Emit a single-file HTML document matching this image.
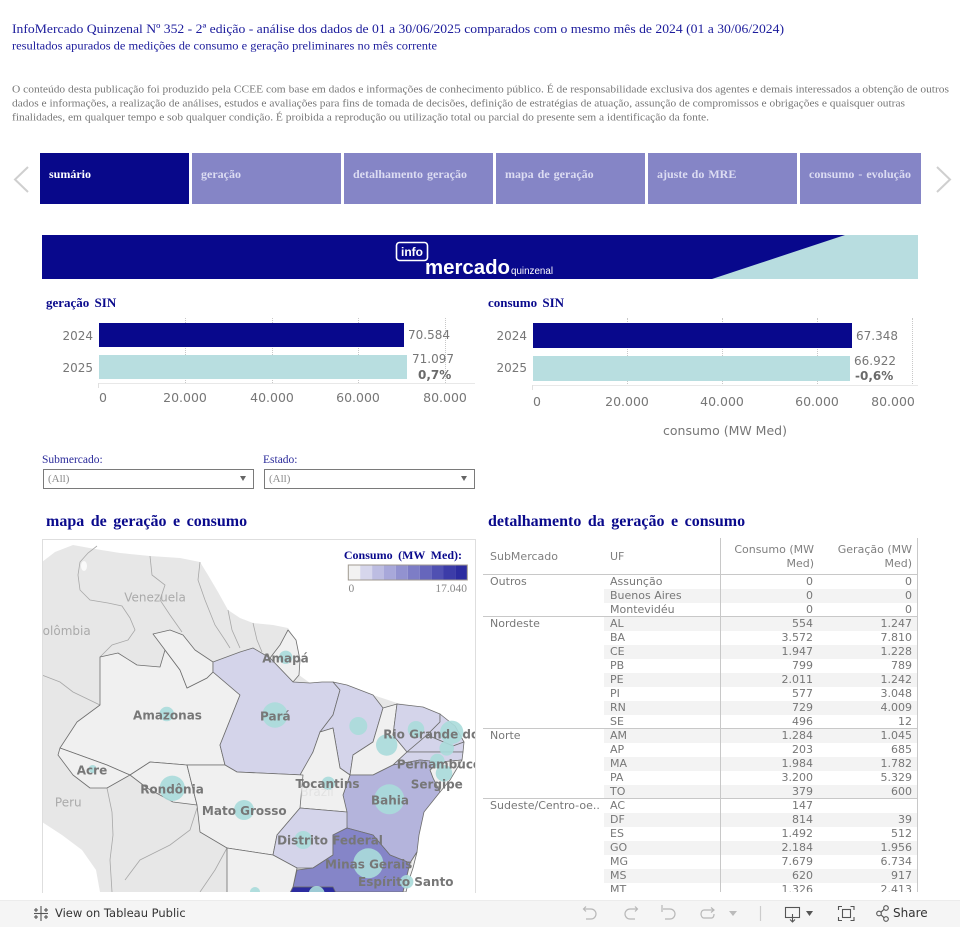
<!DOCTYPE html>
<html><head><meta charset="utf-8">
<style>
*{margin:0;padding:0;box-sizing:border-box}
body{width:960px;height:927px;overflow:hidden;background:#fff;position:relative}
.a{position:absolute;white-space:nowrap}
.dv{font-family:"DejaVu Sans","Liberation Sans",sans-serif}
.sf{font-family:"Liberation Serif",serif}
.tab{position:absolute;top:153px;height:51px;background:#8585c6;color:#dcdcf2;font:bold 12px "Liberation Serif",serif;word-spacing:1px;line-height:43px;padding-left:9px;white-space:nowrap;overflow:hidden}
.yl{position:absolute;font:12px "DejaVu Sans",sans-serif;color:#777;line-height:16px;text-align:right;width:60px}
.tk{position:absolute;font:12.5px "DejaVu Sans",sans-serif;color:#777;line-height:16px;width:80px;text-align:center}
.vl{position:absolute;font:12px "DejaVu Sans",sans-serif;color:#777;line-height:16px;white-space:nowrap}
.gl{position:absolute;width:0;border-left:1px dotted #c8c8c8}
.r{position:absolute;left:0;width:960px;height:14px;line-height:14px;font:11px "DejaVu Sans",sans-serif;color:#777}
.r .b{position:absolute;left:604px;width:313px;height:14px;background:#f3f3f3}
.r .s{position:absolute;left:490px}
.r .u{position:absolute;left:610px}
.r .c{position:absolute;right:147px}
.r .g{position:absolute;right:48px}
</style></head><body>

<!-- header texts -->
<svg class="a" style="left:0;top:0" width="960" height="130">
<text x="12" y="33" font-family="Liberation Serif" font-size="13" fill="#1c1c9c" textLength="772" lengthAdjust="spacingAndGlyphs">InfoMercado Quinzenal Nº 352 - 2ª edição - análise dos dados de 01 a 30/06/2025 comparados com o mesmo mês de 2024 (01 a 30/06/2024)</text>
<text x="12" y="49.5" font-family="Liberation Serif" font-size="12" fill="#1c1c9c" textLength="425" lengthAdjust="spacingAndGlyphs">resultados apurados de medições de consumo e geração preliminares no mês corrente</text>
<text x="12" y="92.6" font-family="Liberation Serif" font-size="10.5" fill="#777" textLength="937" lengthAdjust="spacingAndGlyphs">O conteúdo desta publicação foi produzido pela CCEE com base em dados e informações de conhecimento público. É de responsabilidade exclusiva dos agentes e demais interessados a obtenção  de outros</text>
<text x="12" y="106.6" font-family="Liberation Serif" font-size="10.5" fill="#777" textLength="893" lengthAdjust="spacingAndGlyphs">dados e informações, a realização de análises, estudos e avaliações para fins de tomada de decisões, definição de estratégias de atuação, assunção de compromissos e obrigações e quaisquer outras</text>
<text x="12" y="120.6" font-family="Liberation Serif" font-size="10.5" fill="#777" textLength="697" lengthAdjust="spacingAndGlyphs">finalidades, em qualquer tempo e sob qualquer condição. É proibida a reprodução ou utilização total ou parcial do presente sem a identificação da fonte.</text>
</svg>

<!-- nav -->
<svg class="a" style="left:0;top:150px" width="960" height="60">
<polyline points="28,17 15,29.5 28,42" fill="none" stroke="#cfcfcf" stroke-width="2"/>
<polyline points="937,17 950,29.5 937,42" fill="none" stroke="#cfcfcf" stroke-width="2"/>
</svg>
<div class="tab" style="left:40px;width:149px;background:#08088a;color:#fff">sumário</div>
<div class="tab" style="left:192px;width:149px">geração</div>
<div class="tab" style="left:344px;width:149px">detalhamento geração</div>
<div class="tab" style="left:496px;width:149px">mapa de geração</div>
<div class="tab" style="left:648px;width:149px">ajuste do MRE</div>
<div class="tab" style="left:800px;width:121px">consumo - evolução</div>

<!-- banner -->
<svg class="a" style="left:42px;top:235px" width="876" height="44" viewBox="42 235 876 44">
<rect x="42" y="235" width="876" height="44" fill="#08088c"/>
<polygon points="845,235 918,235 918,279 712,279" fill="#b8dde0"/>
<rect x="396.5" y="242.5" width="31" height="18" rx="3" fill="none" stroke="#fff" stroke-width="1.6"/>
<text x="412" y="256" text-anchor="middle" font-family="Liberation Sans" font-weight="bold" font-size="12" fill="#fff">info</text>
<text x="425" y="274" font-family="Liberation Sans" font-weight="bold" font-size="20" fill="#fff" textLength="85" lengthAdjust="spacingAndGlyphs">mercado</text>
<text x="511" y="274" font-family="Liberation Sans" font-size="10" fill="#fff" textLength="42" lengthAdjust="spacingAndGlyphs">quinzenal</text>
</svg>

<!-- chart titles -->
<div class="a sf" style="left:46px;top:295px;font-weight:bold;font-size:13px;color:#0a0a8c;line-height:16px;word-spacing:2px">geração SIN</div>
<div class="a sf" style="left:488px;top:295px;font-weight:bold;font-size:13px;color:#0a0a8c;line-height:16px;word-spacing:2px">consumo SIN</div>

<!-- chart 1 -->
<div class="gl" style="left:185px;top:318px;height:65px"></div>
<div class="gl" style="left:272px;top:318px;height:65px"></div>
<div class="gl" style="left:358px;top:318px;height:65px"></div>
<div class="gl" style="left:445px;top:318px;height:65px"></div>
<div class="a" style="left:98px;top:383px;width:377px;height:1px;background:#e8e8e8"></div>
<div class="a" style="left:98px;top:383px;width:1px;height:5px;background:#e0e0e0"></div>
<div class="a" style="left:99px;top:323px;width:305px;height:24px;background:#08088c"></div>
<div class="a" style="left:99px;top:355px;width:308px;height:24px;background:#b8dee0"></div>
<div class="yl" style="left:33px;top:328px">2024</div>
<div class="yl" style="left:33px;top:360px">2025</div>
<div class="vl" style="left:408px;top:327px">70.584</div>
<div class="vl" style="left:412px;top:351px">71.097</div>
<div class="vl" style="left:418px;top:367px;font-weight:bold;color:#6a6a6a">0,7%</div>
<div class="tk" style="left:63px;top:390px">0</div>
<div class="tk" style="left:145px;top:390px">20.000</div>
<div class="tk" style="left:232px;top:390px">40.000</div>
<div class="tk" style="left:318px;top:390px">60.000</div>
<div class="tk" style="left:405px;top:390px">80.000</div>

<!-- chart 2 -->
<div class="gl" style="left:627px;top:318px;height:68px"></div>
<div class="gl" style="left:722px;top:318px;height:68px"></div>
<div class="gl" style="left:817px;top:318px;height:68px"></div>
<div class="gl" style="left:912px;top:318px;height:68px"></div>
<div class="a" style="left:532px;top:385px;width:386px;height:1px;background:#e8e8e8"></div>
<div class="a" style="left:532px;top:385px;width:1px;height:5px;background:#e0e0e0"></div>
<div class="a" style="left:533px;top:323px;width:319px;height:25px;background:#08088c"></div>
<div class="a" style="left:533px;top:356px;width:317px;height:25px;background:#b8dee0"></div>
<div class="yl" style="left:467px;top:328px">2024</div>
<div class="yl" style="left:467px;top:360px">2025</div>
<div class="vl" style="left:856px;top:328px">67.348</div>
<div class="vl" style="left:854px;top:353px">66.922</div>
<div class="vl" style="left:855px;top:368px;font-weight:bold;color:#6a6a6a">-0,6%</div>
<div class="tk" style="left:497px;top:394px">0</div>
<div class="tk" style="left:587px;top:394px">20.000</div>
<div class="tk" style="left:682px;top:394px">40.000</div>
<div class="tk" style="left:777px;top:394px">60.000</div>
<div class="tk" style="left:853px;top:394px">80.000</div>
<div class="a dv" style="left:625px;top:423px;width:200px;text-align:center;font-size:12.5px;color:#777;line-height:16px">consumo (MW Med)</div>

<!-- filters -->
<div class="a sf" style="left:42px;top:452px;font-size:11.5px;color:#2a2a9a;line-height:16px">Submercado:</div>
<div class="a" style="left:43px;top:469px;width:211px;height:20px;border:1px solid #7a7a7a"></div>
<div class="a sf" style="left:48px;top:472px;font-size:11px;color:#8a8a8a;line-height:14px">(All)</div>
<div class="a" style="left:240px;top:476px;width:0;height:0;border-left:3.5px solid transparent;border-right:3.5px solid transparent;border-top:5px solid #666"></div>
<div class="a sf" style="left:263px;top:452px;font-size:11.5px;color:#2a2a9a;line-height:16px">Estado:</div>
<div class="a" style="left:264px;top:469px;width:211px;height:20px;border:1px solid #7a7a7a"></div>
<div class="a sf" style="left:269px;top:472px;font-size:11px;color:#8a8a8a;line-height:14px">(All)</div>
<div class="a" style="left:461px;top:476px;width:0;height:0;border-left:3.5px solid transparent;border-right:3.5px solid transparent;border-top:5px solid #666"></div>

<!-- section titles -->
<div class="a sf" style="left:46px;top:512px;font-weight:bold;font-size:16px;color:#0a0a8c;line-height:20px;word-spacing:2.5px">mapa de geração e consumo</div>
<div class="a sf" style="left:488px;top:512px;font-weight:bold;font-size:16px;color:#0a0a8c;line-height:20px;word-spacing:2.5px">detalhamento da geração e consumo</div>

<!-- map -->
<div class="a" style="left:42px;top:539px;width:434px;height:354px;border:1px solid #dedede;border-bottom:none"></div>
<svg class="a" style="left:43px;top:540px" width="432" height="352" viewBox="43 540 432 352">
<rect x="43" y="540" width="432" height="352" fill="#fff"/>
<polygon fill="#e7e7e7" points="42,562 55,552 73,545 95,549 120,553 150,556 180,558 200,562 208,575 218,592 228,610 240,618 253,623 273,625 288,628 296,640 300,660 299,675 310,683 322,682 347,685 373,695 397,703 423,707 440,714 455,726 464,742 462,760 450,780 440,792 424,812 419,835 417,852 413,868 409,880 406,892 100,892 96,870 82,850 62,835 42,822"/>
<ellipse cx="84" cy="566" rx="3" ry="5" fill="#fafafa"/>
<g fill="none" stroke="#a8a8a8" stroke-width="0.8">
<polyline points="97,546 88,553 80,562 78,575 80,590 90,600 108,603 122,606 130,618 135,630 128,640 112,645 100,657"/>
<polyline points="42,675 60,682 73,692 100,705"/>
<polyline points="107,788 112,812 113,835 110,860 112,892"/>
<polyline points="150,556 152,575 165,585 160,600 170,615 182,632"/>
<polyline points="200,562 198,580 205,600 215,625 225,640 230,648"/>
<polyline points="228,610 232,630 240,648"/>
<polyline points="253,623 257,640 262,652"/>
<polyline points="197,808 190,830 170,845 140,860 125,880"/>
<polyline points="227,848 215,870 200,892"/>
</g>
<g stroke="#6e6e6e" stroke-width="0.8" stroke-linejoin="round">
<polygon fill="#f0f0f0" points="100,657 118,653 137,665 160,667 165,650 180,670 187,688 207,678 213,672 240,695 220,745 225,765 187,765 150,762 130,775 107,765 60,748 77,722 100,705"/>
<polygon fill="#f0f0f0" points="153,634 170,630 183,635 195,650 213,662 213,672 207,678 187,688 180,670 165,650"/>
<polygon fill="#f0f0f0" points="270,658 280,645 288,630 296,640 300,660 299,675 293,682"/>
<polygon fill="#d4d4ea" points="213,662 240,652 253,648 270,658 293,682 310,683 322,682 333,682 340,690 333,715 320,732 313,752 303,775 237,772 225,765 220,745 240,695 213,672"/>
<polygon fill="#d4d4ea" points="333,682 347,685 373,695 383,708 373,742 353,755 350,775 340,768 333,728 320,732 333,715 340,690"/>
<polygon fill="#f0f0f0" points="383,708 397,704 393,735 407,752 393,765 373,775 350,775 353,755 373,742"/>
<polygon fill="#d4d4ea" points="397,704 423,707 440,714 440,722 427,735 407,752 393,735"/>
<polygon fill="#d4d4ea" points="440,714 455,726 464,742 453,746 427,735 440,722"/>
<polygon fill="#d4d4ea" points="427,735 453,746 464,742 463,752 407,752"/>
<polygon fill="#d4d4ea" points="407,752 463,752 462,760 440,762 420,760 393,765"/>
<polygon fill="#f0f0f0" points="440,762 462,760 450,780 440,792 433,778 430,770"/>
<polygon fill="#b4b4dc" points="393,765 420,760 440,762 430,770 433,778 440,792 424,812 419,835 417,852 410,863 390,855 373,835 347,828 343,795 350,775 373,775"/>
<polygon fill="#f0f0f0" points="320,732 333,728 340,768 350,775 343,795 347,812 300,808 300,775 313,752"/>
<polygon fill="#f0f0f0" points="60,748 107,765 130,775 107,788 90,788 73,775 58,755"/>
<polygon fill="#f0f0f0" points="150,762 187,765 197,805 173,802 147,788 130,775"/>
<polygon fill="#f0f0f0" points="187,765 225,765 237,772 303,775 300,808 277,835 273,855 227,848 200,832 197,805"/>
<polygon fill="#d4d4ea" points="300,808 347,812 347,828 333,835 333,855 313,868 297,868 273,855 277,835"/>
<polygon fill="#8585c8" points="347,828 373,835 390,855 410,863 406,880 403,892 335,892 333,887 293,887 297,870 313,868 333,855 333,835"/>
<polygon fill="#f0f0f0" points="410,863 417,852 413,868 409,880 406,892 403,892 406,880"/>
<polygon fill="#f0f0f0" points="227,848 273,855 297,868 293,887 290,893 227,893"/>
<polygon fill="#2c2ca0" points="293,887 333,887 336,893 290,893"/>
</g>
<g fill="#aadcdb" opacity="0.9">
<circle cx="285.7" cy="657.3" r="6.7"/><circle cx="166.7" cy="714" r="7.3"/><circle cx="275" cy="715" r="12.7"/>
<circle cx="358.3" cy="726" r="9"/><circle cx="416" cy="729.3" r="8.3"/><circle cx="451.7" cy="732.3" r="11.7"/>
<circle cx="386.7" cy="745" r="10.7"/><circle cx="446.7" cy="748.3" r="7.3"/><circle cx="437.3" cy="761" r="7.3"/>
<circle cx="444" cy="773.3" r="8.3"/><circle cx="92.7" cy="769" r="4"/><circle cx="172.3" cy="788.3" r="12.7"/>
<circle cx="328.3" cy="783.3" r="6.7"/><circle cx="244" cy="810" r="10"/><circle cx="389.3" cy="799.3" r="15"/>
<circle cx="303.3" cy="840" r="9"/><circle cx="368.3" cy="863.3" r="15"/><circle cx="406.7" cy="881.7" r="6.7"/>
<circle cx="316.7" cy="894" r="8"/><circle cx="255" cy="892" r="5"/>
</g>
<g font-family="DejaVu Sans" font-size="12" fill="#aaa">
<text x="155" y="601.6" text-anchor="middle">Venezuela</text>
<text x="90.7" y="635" text-anchor="end">Colômbia</text>
<text x="68.3" y="806.6" text-anchor="middle">Peru</text>
<text x="317" y="796" text-anchor="middle" fill="#e2e2e2">Brazil</text>
</g>
<g font-family="DejaVu Sans" font-weight="bold" font-size="12" fill="#777" text-anchor="middle">
<text x="285.5" y="662.6">Amapá</text>
<text x="167.5" y="719.3">Amazonas</text>
<text x="275.3" y="720.3">Pará</text>
<text x="383.3" y="738.3" text-anchor="start">Rio Grande do Norte</text>
<text x="396.7" y="768.6" text-anchor="start">Pernambuco</text>
<text x="410.7" y="788.3" text-anchor="start">Sergipe</text>
<text x="92" y="774.3">Acre</text>
<text x="172" y="793.3">Rondônia</text>
<text x="327.5" y="788">Tocantins</text>
<text x="244.3" y="815">Mato Grosso</text>
<text x="390" y="804.3">Bahia</text>
<text x="330" y="844.3">Distrito Federal</text>
<text x="368.7" y="868.3">Minas Gerais</text>
<text x="405.8" y="886">Espírito Santo</text>
</g>
<!-- legend -->
<text x="462" y="559" text-anchor="end" font-family="Liberation Serif" font-weight="bold" font-size="12" fill="#0a0a8c" word-spacing="2.5">Consumo (MW Med):</text>
<g stroke="none">
<rect x="348.3" y="565" width="11.9" height="15" fill="#f2f2f2"/>
<rect x="360.2" y="565" width="11.9" height="15" fill="#d6d6ec"/>
<rect x="372.1" y="565" width="11.9" height="15" fill="#bdbde2"/>
<rect x="384" y="565" width="11.9" height="15" fill="#a8a8da"/>
<rect x="395.9" y="565" width="11.9" height="15" fill="#9292d0"/>
<rect x="407.8" y="565" width="11.9" height="15" fill="#7d7dc6"/>
<rect x="419.7" y="565" width="11.9" height="15" fill="#6666bc"/>
<rect x="431.6" y="565" width="11.9" height="15" fill="#5050b2"/>
<rect x="443.5" y="565" width="11.9" height="15" fill="#3c3ca8"/>
<rect x="455.4" y="565" width="11.9" height="15" fill="#2c2ca0"/>
</g>
<rect x="348.3" y="565" width="119" height="15" fill="none" stroke="#a09a90" stroke-width="1"/>
<text x="348.5" y="592" font-family="Liberation Serif" font-size="11.5" fill="#888">0</text>
<text x="467" y="592" text-anchor="end" font-family="Liberation Serif" font-size="11.5" fill="#888">17.040</text>
</svg>

<!-- table -->
<div class="a" style="left:0;top:538px;width:960px;height:354px;overflow:hidden">
<div class="a dv" style="left:490px;top:12px;font-size:11px;color:#808080;line-height:14px">SubMercado</div>
<div class="a dv" style="left:610px;top:12px;font-size:11px;color:#808080;line-height:14px">UF</div>
<div class="a dv" style="right:146px;top:5px;font-size:11px;color:#808080;line-height:14.3px;text-align:right">Consumo (MW<br>Med)</div>
<div class="a dv" style="right:48px;top:5px;font-size:11px;color:#808080;line-height:14.3px;text-align:right">Geração (MW<br>Med)</div>
<div style="position:absolute;left:0;top:36.5px;width:960px;height:340px">
<div class="r" style="top:0"><span class="s">Outros</span><span class="u">Assunção</span><span class="c">0</span><span class="g">0</span></div>
<div class="r" style="top:14px"><div class="b"></div><span class="u">Buenos Aires</span><span class="c">0</span><span class="g">0</span></div>
<div class="r" style="top:28px"><span class="u">Montevidéu</span><span class="c">0</span><span class="g">0</span></div>
<div class="r" style="top:42px"><div class="b"></div><span class="s">Nordeste</span><span class="u">AL</span><span class="c">554</span><span class="g">1.247</span></div>
<div class="r" style="top:56px"><span class="u">BA</span><span class="c">3.572</span><span class="g">7.810</span></div>
<div class="r" style="top:70px"><div class="b"></div><span class="u">CE</span><span class="c">1.947</span><span class="g">1.228</span></div>
<div class="r" style="top:84px"><span class="u">PB</span><span class="c">799</span><span class="g">789</span></div>
<div class="r" style="top:98px"><div class="b"></div><span class="u">PE</span><span class="c">2.011</span><span class="g">1.242</span></div>
<div class="r" style="top:112px"><span class="u">PI</span><span class="c">577</span><span class="g">3.048</span></div>
<div class="r" style="top:126px"><div class="b"></div><span class="u">RN</span><span class="c">729</span><span class="g">4.009</span></div>
<div class="r" style="top:140px"><span class="u">SE</span><span class="c">496</span><span class="g">12</span></div>
<div class="r" style="top:154px"><div class="b"></div><span class="s">Norte</span><span class="u">AM</span><span class="c">1.284</span><span class="g">1.045</span></div>
<div class="r" style="top:168px"><span class="u">AP</span><span class="c">203</span><span class="g">685</span></div>
<div class="r" style="top:182px"><div class="b"></div><span class="u">MA</span><span class="c">1.984</span><span class="g">1.782</span></div>
<div class="r" style="top:196px"><span class="u">PA</span><span class="c">3.200</span><span class="g">5.329</span></div>
<div class="r" style="top:210px"><div class="b"></div><span class="u">TO</span><span class="c">379</span><span class="g">600</span></div>
<div class="r" style="top:224px"><span class="s">Sudeste/Centro-oe..</span><span class="u">AC</span><span class="c">147</span></div>
<div class="r" style="top:238px"><div class="b"></div><span class="u">DF</span><span class="c">814</span><span class="g">39</span></div>
<div class="r" style="top:252px"><span class="u">ES</span><span class="c">1.492</span><span class="g">512</span></div>
<div class="r" style="top:266px"><div class="b"></div><span class="u">GO</span><span class="c">2.184</span><span class="g">1.956</span></div>
<div class="r" style="top:280px"><span class="u">MG</span><span class="c">7.679</span><span class="g">6.734</span></div>
<div class="r" style="top:294px"><div class="b"></div><span class="u">MS</span><span class="c">620</span><span class="g">917</span></div>
<div class="r" style="top:308px"><span class="u">MT</span><span class="c">1.326</span><span class="g">2.413</span></div>
</div>
<div class="a" style="left:483px;top:36px;width:435px;height:1px;background:#c8c8c8"></div>
<div class="a" style="left:483px;top:78px;width:435px;height:1px;background:#c8c8c8"></div>
<div class="a" style="left:483px;top:190px;width:435px;height:1px;background:#c8c8c8"></div>
<div class="a" style="left:483px;top:260px;width:435px;height:1px;background:#c8c8c8"></div>
<div class="a" style="left:720px;top:0;width:1px;height:354px;background:#c8c8c8"></div>
<div class="a" style="left:917px;top:0;width:1px;height:354px;background:#c8c8c8"></div>
</div>

<!-- toolbar -->
<div class="a" style="left:0;top:900px;width:960px;height:27px;background:#f5f5f5;border-top:1px solid #ececec"></div>
<svg class="a" style="left:0;top:900px" width="960" height="27">
<g stroke="#555" stroke-width="1.1" fill="none">
<line x1="41" y1="6" x2="41" y2="21"/><line x1="34" y1="13.5" x2="48" y2="13.5"/>
<line x1="36" y1="8" x2="36" y2="12"/><line x1="34" y1="10" x2="38" y2="10"/>
<line x1="46" y1="8" x2="46" y2="12"/><line x1="44" y1="10" x2="48" y2="10"/>
<line x1="36" y1="15" x2="36" y2="19"/><line x1="34" y1="17" x2="38" y2="17"/>
<line x1="46" y1="15" x2="46" y2="19"/><line x1="44" y1="17" x2="48" y2="17"/>
</g>
<g stroke="#b8b8b8" stroke-width="1.2" fill="none">
<path d="M584,9 h7 a5,5 0 0 1 0,10 h-5"/><path d="M586,6.5 l-2.5,2.5 2.5,2.5"/>
<path d="M637,9 h-7 a5,5 0 0 0 0,10 h5"/><path d="M635,6.5 l2.5,2.5 -2.5,2.5"/>
<path d="M663,9 h7 a5,5 0 0 1 0,10 h-5"/><line x1="662" y1="5" x2="662" y2="12"/>
<path d="M714,10 h-10 a3,4 0 0 0 0,8 h8 a3,4 0 0 0 2,-4"/><path d="M711,7.5 l3,2.5 -3,2.5"/>
<line x1="760.5" y1="6" x2="760.5" y2="21" stroke="#ccc"/>
</g>
<polygon points="729,11 737,11 733,16" fill="#bbb"/>
<g stroke="#555" stroke-width="1.1" fill="none">
<rect x="785.5" y="7.5" width="14" height="10"/><line x1="792.5" y1="14" x2="792.5" y2="22"/><path d="M790,19.5 l2.5,2.5 2.5,-2.5"/>
<path d="M838.5,10 v-3.5 h3.5 M850.5,6.5 h3.5 v3.5 M854,17 v3.5 h-3.5 M842,20.5 h-3.5 v-3.5"/>
<rect x="842.5" y="9.5" width="8" height="8"/>
<circle cx="886" cy="8" r="2.3"/><circle cx="879" cy="13.5" r="2.3"/><circle cx="886" cy="19" r="2.3"/>
<line x1="881" y1="12.2" x2="884" y2="9.3"/><line x1="881" y1="14.8" x2="884" y2="17.7"/>
</g>
<polygon points="806,11 813,11 809.5,16" fill="#555"/>
</svg>
<div class="a dv" style="left:55px;top:906px;font-size:11.5px;color:#333;line-height:15px">View on Tableau Public</div>
<div class="a dv" style="left:893px;top:906px;font-size:12px;color:#333;line-height:15px">Share</div>

</body></html>
